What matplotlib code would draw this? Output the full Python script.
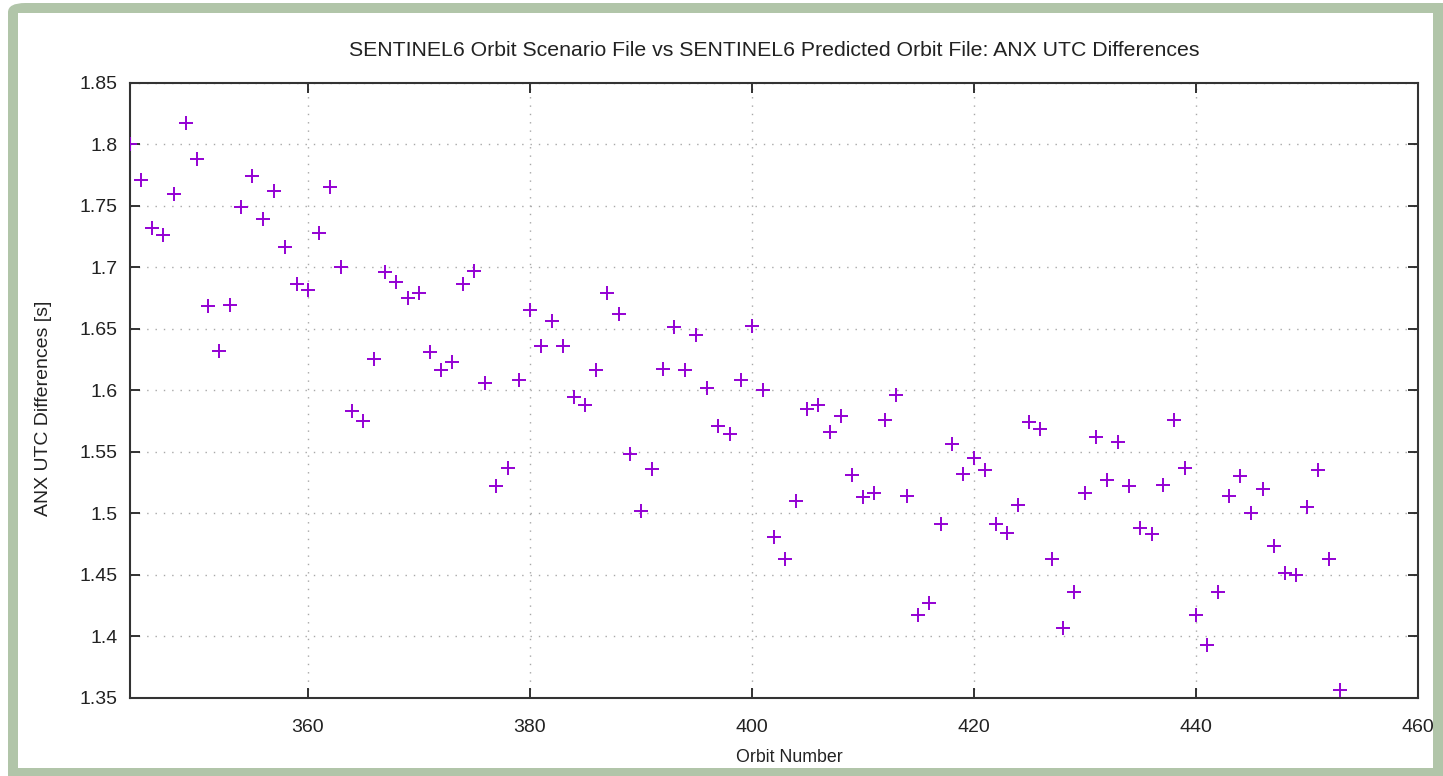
import matplotlib
matplotlib.use("Agg")
import matplotlib.pyplot as plt
from matplotlib.patches import FancyBboxPatch, Rectangle
from matplotlib.ticker import FuncFormatter

orbits = list(range(344, 454))
anx_diff = [
    1.800, 1.771, 1.732, 1.726, 1.759, 1.817, 1.788, 1.668, 1.632, 1.669,
    1.749, 1.774, 1.739, 1.762, 1.716, 1.686, 1.681, 1.728, 1.765, 1.700,
    1.583, 1.575, 1.625, 1.696, 1.688, 1.675, 1.679, 1.631, 1.616, 1.623,
    1.686, 1.697, 1.606, 1.522, 1.537, 1.608, 1.665, 1.636, 1.656, 1.636,
    1.594, 1.588, 1.616, 1.679, 1.662, 1.548, 1.502, 1.536, 1.617, 1.651,
    1.616, 1.645, 1.602, 1.571, 1.564, 1.608, 1.652, 1.600, 1.481, 1.463,
    1.510, 1.585, 1.588, 1.566, 1.579, 1.531, 1.513, 1.516, 1.576, 1.596,
    1.514, 1.417, 1.427, 1.491, 1.556, 1.532, 1.545, 1.535, 1.491, 1.484,
    1.507, 1.574, 1.568, 1.463, 1.407, 1.436, 1.516, 1.562, 1.527, 1.558,
    1.522, 1.488, 1.483, 1.523, 1.576, 1.537, 1.417, 1.393, 1.436, 1.514,
    1.530, 1.500, 1.520, 1.473, 1.451, 1.450, 1.505, 1.535, 1.463, 1.356,
]
x_ticks = [360, 380, 400, 420, 440, 460]
y_ticks = [1.35, 1.4, 1.45, 1.5, 1.55, 1.6, 1.65, 1.7, 1.75, 1.8, 1.85]

title = "SENTINEL6 Orbit Scenario File vs SENTINEL6 Predicted Orbit File: ANX UTC Differences"
xlabel = "Orbit Number"
ylabel = "ANX UTC Differences [s]"

plt.rcParams['font.family'] = ['Liberation Sans', 'DejaVu Sans']

W, H = 1443, 776
fig = plt.figure(figsize=(W / 100, H / 100), dpi=100)
fig.patch.set_facecolor('white')

green = '#b1c5a9'
# green frame with rounded top-left corner
outer = FancyBboxPatch((8 / W, (H - 800) / H), (1480 - 8) / W, (800 - 3) / H,
                       boxstyle="round,pad=0,rounding_size=0.012",
                       transform=fig.transFigure, facecolor=green,
                       edgecolor='none', zorder=0)
fig.patches.append(outer)
inner = Rectangle((18 / W, (H - 768) / H), (1433 - 18) / W, (768 - 13) / H,
                  transform=fig.transFigure, facecolor='white',
                  edgecolor='none', zorder=0.5)
fig.patches.append(inner)

L, R, T, B = 130, 1418, 82.5, 697.7
ax = fig.add_axes([L / W, (H - B) / H, (R - L) / W, (B - T) / H])
ax.set_zorder(2)
ax.set_facecolor('white')

ax.plot(orbits, anx_diff, linestyle='none', marker='+', markersize=10,
        markeredgewidth=1.4, color='#9400d3', clip_on=True, zorder=3)

ax.set_xlim(344, 460)
ax.set_ylim(1.35, 1.85)
ax.set_xticks(x_ticks)
ax.set_yticks(y_ticks)
ax.yaxis.set_major_formatter(FuncFormatter(lambda v, p: f"{v:g}"))
ax.xaxis.set_major_formatter(FuncFormatter(lambda v, p: f"{v:g}"))

ax.grid(True, color='#a8a8a8', linestyle=(0, (1, 5)), linewidth=1.0)
ax.tick_params(direction='in', length=7, width=1.3, color='#222222',
               top=True, right=True, labelsize=14, labelcolor='#222222')
ax.tick_params(axis='x', pad=15)
ax.tick_params(axis='y', pad=9)
for s in ax.spines.values():
    s.set_linewidth(1.5)
    s.set_color('#333333')

fig.text(774 / W, 1 - 50 / H, title, fontsize=15.3, color='#222222',
         ha='center', va='center')
fig.text(789 / W, 1 - 757 / H, xlabel, fontsize=12.8, color='#222222',
         ha='center', va='center')
fig.text(44 / W, 1 - 408 / H, ylabel, fontsize=14, color='#222222',
         ha='center', va='center', rotation=90)

fig.savefig('out.png', dpi=100, facecolor=fig.get_facecolor())
